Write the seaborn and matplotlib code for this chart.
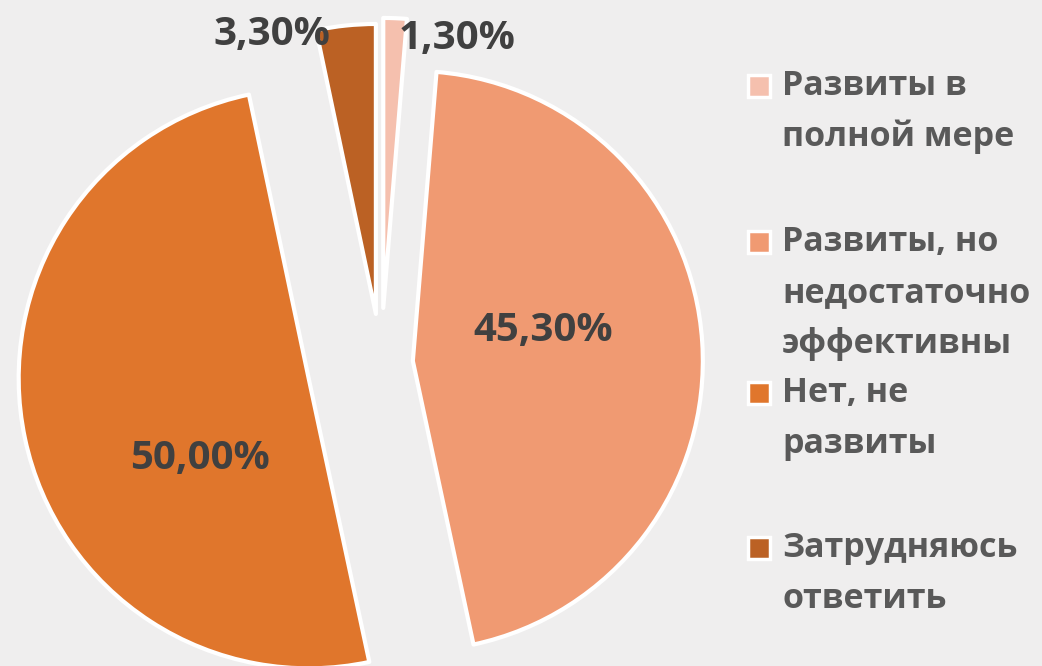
import matplotlib
matplotlib.use("Agg")
import matplotlib.pyplot as plt
from matplotlib.patches import Rectangle
import seaborn as sns

# данные диаграммы
categories = ["Развиты в\nполной мере",
              "Развиты, но\nнедостаточно\nэффективны",
              "Нет, не\nразвиты",
              "Затрудняюсь\nответить"]
shares = [1.3, 45.3, 50.0, 3.3]
value_labels = ["1,30%", "45,30%", "50,00%", "3,30%"]

# оформление
colors = sns.color_palette(["#f5c0ae", "#f09a72", "#e0762c", "#bb6124"])
explode = [0.19, 0.11, 0.255, 0.17]
bg = "#efeeee"

sns.set_theme(style="white")
plt.rcParams["font.family"] = ["Open Sans", "DejaVu Sans"]
plt.rcParams["font.stretch"] = "normal"

W, H = 1042, 666
fig = plt.figure(figsize=(W / 100, H / 100), dpi=100, facecolor=bg)
ax = fig.add_axes([0, 0, 1, 1])
ax.set_facecolor(bg)

# центр круга и радиус в пикселях
cx, cy, R = 381, 363, 290
ax.pie(shares, startangle=90, counterclock=False, explode=explode,
       colors=colors, radius=1,
       wedgeprops=dict(edgecolor="white", linewidth=3, joinstyle="round"))
ax.set_aspect("auto")
ax.set_xlim(-cx / R, (W - cx) / R)
ax.set_ylim((cy - H) / R, cy / R)
ax.axis("off")

# подписи значений (позиции в пикселях)
label_pos = [(457, 38), (543, 331), (200, 458), (272, 35)]
for txt, (px, py) in zip(value_labels, label_pos):
    fig.text(px / W, 1 - py / H, txt, ha="center", va="center",
             fontsize=29, fontweight="bold", color="#404040")

# легенда
first_line_y = [86, 242, 393, 548]
line_step = 51
for cat, col, y0 in zip(categories, colors, first_line_y):
    fig.add_artist(Rectangle((748 / W, 1 - (y0 + 11) / H), 22 / W, 22 / H,
                             transform=fig.transFigure, facecolor=col,
                             edgecolor="white", linewidth=2.5))
    for i, line in enumerate(cat.split("\n")):
        fig.text(782 / W, 1 - (y0 + i * line_step) / H, line,
                 ha="left", va="center", fontsize=24.5, fontweight="bold",
                 color="#595959")

plt.savefig("out.png", dpi=100, facecolor=bg)
plt.close()
